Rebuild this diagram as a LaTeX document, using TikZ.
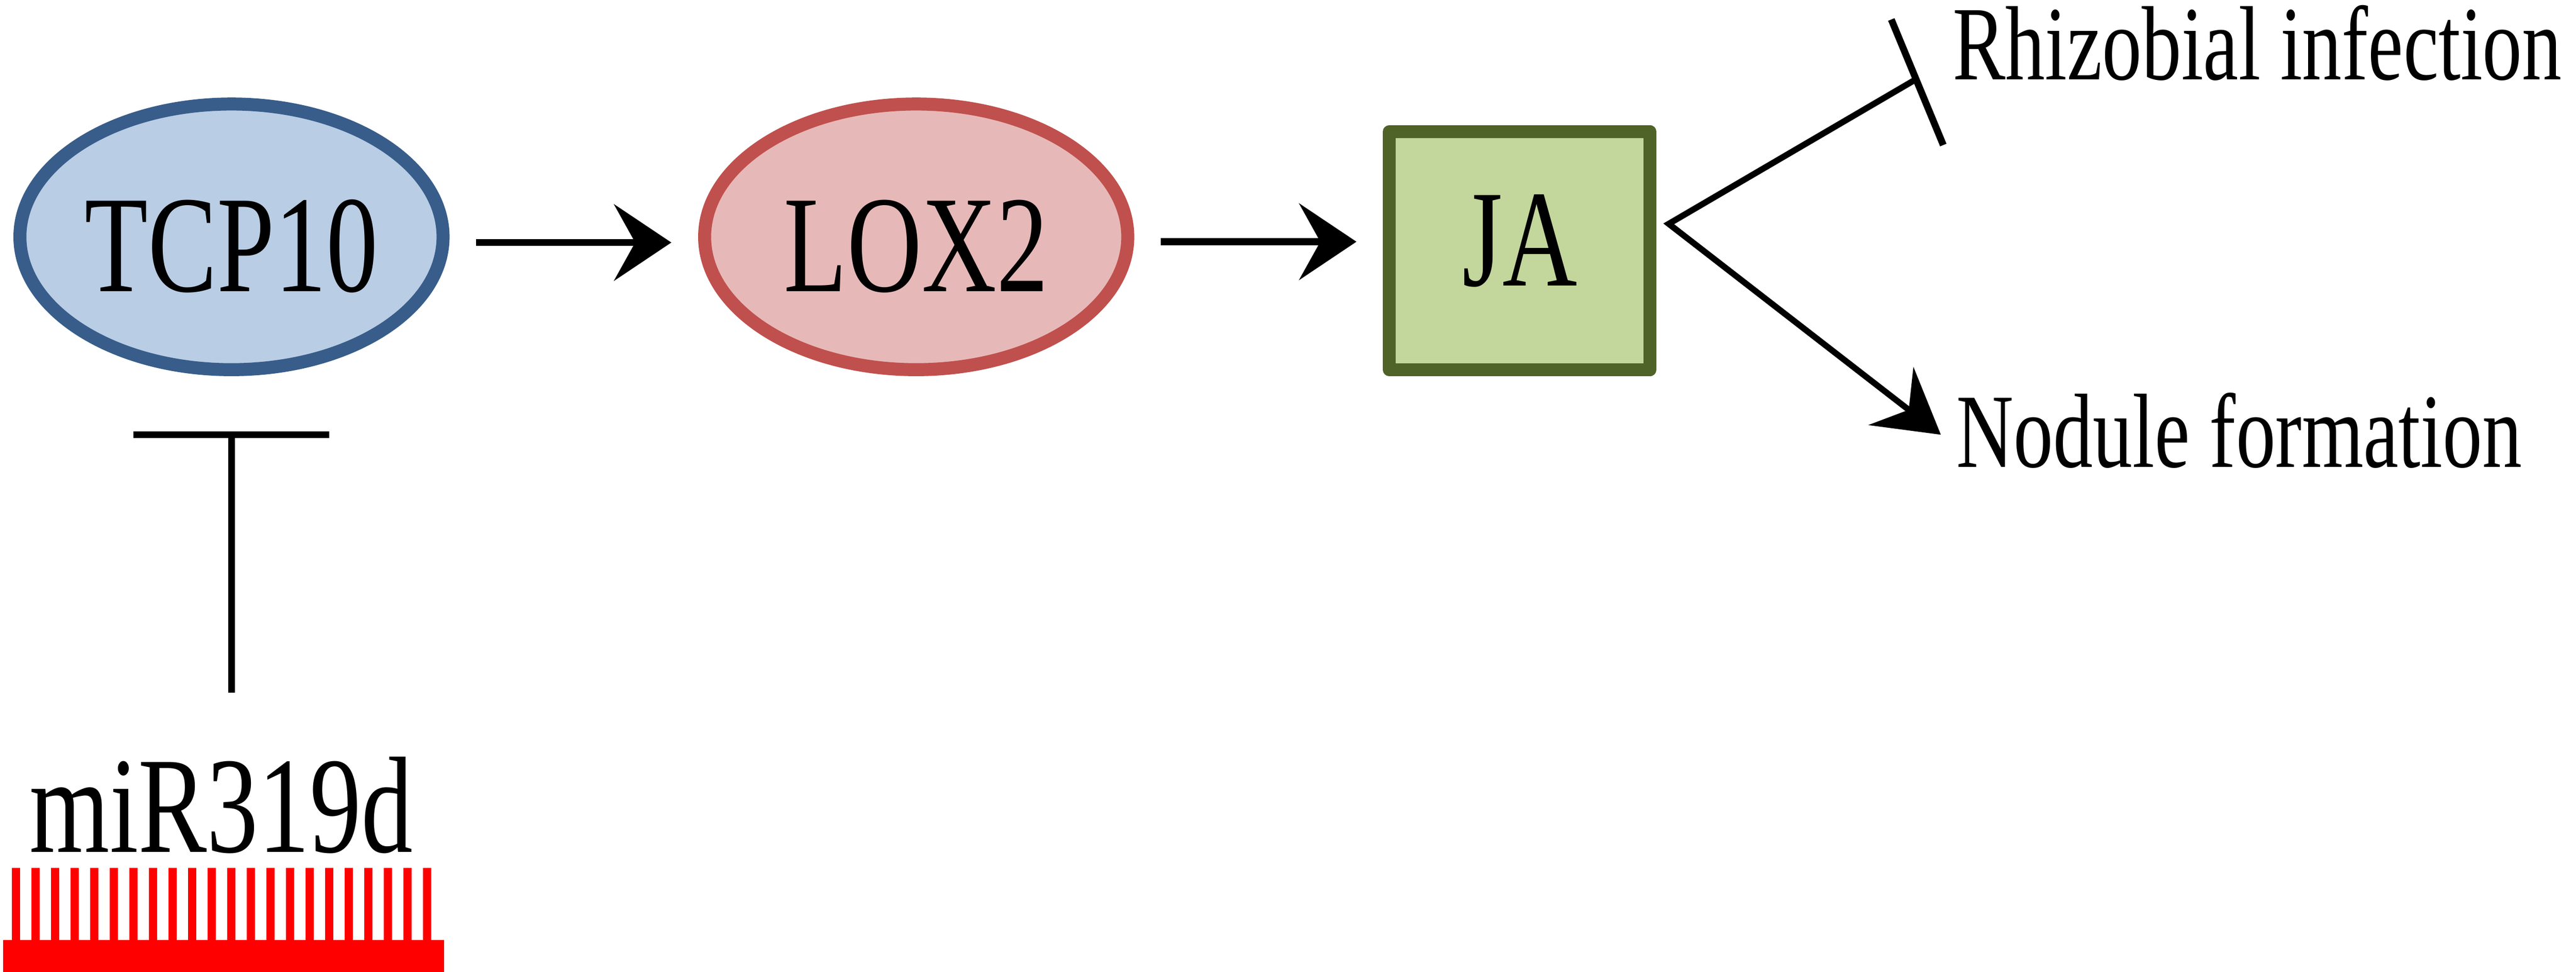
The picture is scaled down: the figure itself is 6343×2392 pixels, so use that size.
\documentclass[tikz,border=0pt]{standalone}
\usepackage{fontspec}
\setmainfont{Liberation Serif}
\usepackage{graphicx}
\usetikzlibrary{shapes.geometric,arrows.meta}
\definecolor{tcpfill}{HTML}{B9CDE5}
\definecolor{tcpline}{HTML}{385D8A}
\definecolor{loxfill}{HTML}{E6B9B8}
\definecolor{loxline}{HTML}{C0504D}
\definecolor{jafill}{HTML}{C3D69B}
\definecolor{jaline}{HTML}{4F6228}
% narrow letters, optionally moved up or down inside the node
\newcommand{\squeezed}[2][0pt]{\raisebox{#1}[\height][\depth]{\scalebox{0.75}[1]{#2}}}
\tikzset{
  gene/.style={ellipse,line width=3.2pt,minimum width=104.2pt,minimum height=65.4pt,inner sep=0pt,font=\fontsize{34pt}{40pt}\selectfont},
  hormone/.style={rectangle,line width=3.2pt,line join=round,minimum width=64.2pt,minimum height=58.6pt,inner sep=0pt,font=\fontsize{34pt}{40pt}\selectfont},
  outcome/.style={inner sep=0pt,font=\fontsize{26pt}{31pt}\selectfont},
  act/.style={line width=1.7pt,-{Stealth[length=14.1pt,width=18.8pt,inset=5.2pt]}},
  inhib/.style={line width=1.7pt},
}
\begin{document}
\begin{tikzpicture}[x=0.1pt,y=-0.1pt]
\useasboundingbox (0,0) rectangle (6343,2392);
% pathway
\node[gene,draw=tcpline,fill=tcpfill] (tcp) at (570,583) {\squeezed[-2.3pt]{TCP10}};
\node[gene,draw=loxline,fill=loxfill] (lox) at (2256,583) {\squeezed[-2.3pt]{LOX2}};
\node[hormone,draw=jaline,fill=jafill] (ja) at (3742,617) {\squeezed[2.4pt]{JA}};
\draw[act,shorten <=6.5pt,shorten >=6.6pt] ([yshift=-1.4pt]tcp.east) -- ([yshift=-1.4pt]tcp.east -| lox.west);
\draw[act,shorten <=6.5pt,shorten >=6.5pt] ([yshift=-1.2pt]lox.east) -- ([yshift=-1.2pt]lox.east -| ja.west);
% outcomes
\coordinate (fork) at ([xshift=3pt,yshift=6.6pt]ja.east);
\coordinate (rbarA) at (4657,48);
\coordinate (rbarB) at (4785,357);
\coordinate (rbar) at (4718,195);
\coordinate (nodtip) at (4779,1070);
\draw[line width=1.5pt,-{Stealth[length=15.5pt,width=18pt,inset=5.5pt]}] (rbar) -- (fork) -- (nodtip);
\draw[inhib] (rbarA) -- (rbarB);
\node[outcome,anchor=base west] (rhizo) at (4806,196) {\squeezed{Rhizobial infection}};
\node[outcome,anchor=base west] (nodule) at (4816,1150) {\squeezed{Nodule formation}};
% miR319d and its repression of TCP10
\node[anchor=base,inner sep=0pt,font=\fontsize{33.8pt}{40pt}\selectfont] (mir) at (545,2098) {\squeezed{miR319d}};
\coordinate (tbar) at ([yshift=-14.4pt]tcp.south);
\coordinate (stem) at (570,1705);
\draw[inhib] ([xshift=-24.1pt]tbar) -- ([xshift=24.1pt]tbar);
\draw[inhib] (stem) -- (tbar);
\fill[red] (7,2314) rectangle (1093,2392);
\foreach \i in {0,...,21}
  \fill[red] ({29+48.2*\i},2136) rectangle ({49.5+48.2*\i},2320);
\end{tikzpicture}
\end{document}
